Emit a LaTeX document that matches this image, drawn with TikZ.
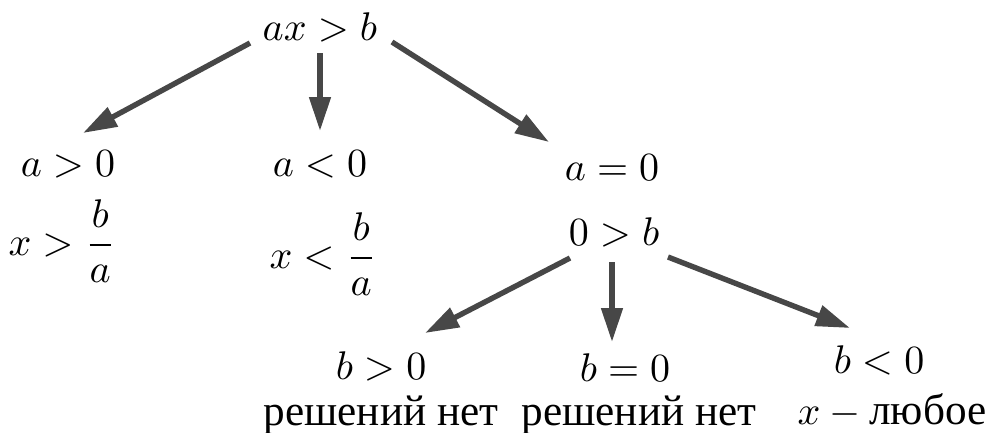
\documentclass[tikz,border=0pt]{standalone}
\usepackage{amsmath}
\usepackage{fontspec}
\newfontfamily\cyr[Scale=1.08]{Liberation Serif}
\usetikzlibrary{arrows.meta}
\definecolor{arrgray}{HTML}{474747}
\tikzset{
  lbl/.style={anchor=base, inner sep=0pt, font=\fontsize{10}{12}\selectfont},
  arr/.style={draw=arrgray, line width=1.35pt, -{Triangle[length=8.5pt,width=5.2pt]}, fill=arrgray}
}
\begin{document}
\begin{tikzpicture}[x=0.25pt,y=-0.25pt]
\useasboundingbox (0,0) rectangle (987,432);
% nodes
\node[lbl] (top) at (320,40) {$ax>b$};
\node[lbl] (apos) at (68,176) {$a>0$};
\node[lbl] (aneg) at (320,176) {$a<0$};
\node[lbl] (azero) at (612,180) {$a=0$};
\node[lbl] (xpos) at (62,255) {$x>\dfrac{b}{a}$};
\node[lbl] (xneg) at (323,268) {$x<\dfrac{b}{a}$};
\node[lbl] (zb) at (614,245) {$0>b$};
\node[lbl] (bpos) at (381,379) {$b>0$};
\node[lbl] (bzero) at (625,381) {$b=0$};
\node[lbl] (bneg) at (879,373) {$b<0$};
\node[lbl] (r1) at (381,425) {\cyr решений нет};
\node[lbl] (r2) at (639,425) {\cyr решений нет};
\node[lbl] (r3) at (892,424) {$x-\hbox{\cyr любое}$};
% connector endpoints
\coordinate (s1) at (250,43);  \coordinate (e1) at (83,133);
\coordinate (s2) at (320,53);  \coordinate (e2) at (320,131);
\coordinate (s3) at (392,42);  \coordinate (e3) at (549,142);
\coordinate (s4) at (570,258); \coordinate (e4) at (425,333);
\coordinate (s5) at (612,262); \coordinate (e5) at (612,342);
\coordinate (s6) at (668,257); \coordinate (e6) at (850,328);
\draw[arr] (s1) -- (e1);
\draw[arr] (s2) -- (e2);
\draw[arr] (s3) -- (e3);
\draw[arr] (s4) -- (e4);
\draw[arr] (s5) -- (e5);
\draw[arr] (s6) -- (e6);
\end{tikzpicture}
\end{document}
